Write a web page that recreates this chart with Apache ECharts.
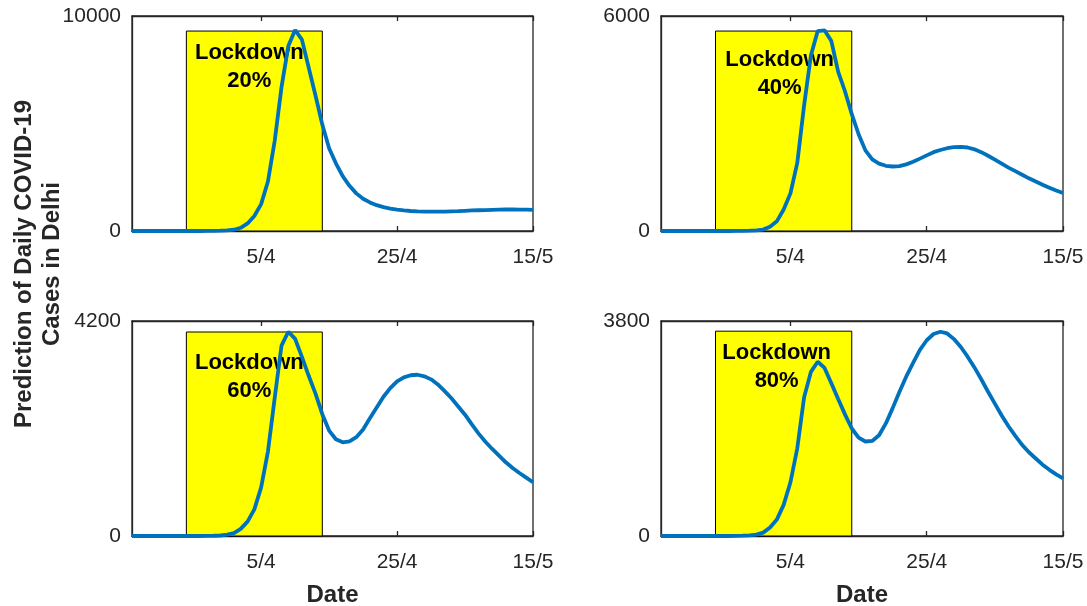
<!DOCTYPE html>
<html>
<head>
<meta charset="utf-8">
<script src="https://cdn.jsdelivr.net/npm/echarts@6/dist/echarts.min.js"></script>
<style>
html,body{margin:0;padding:0;background:#fff;}
#chart{width:1087px;height:606px;}
</style>
</head>
<body>
<div id="chart"></div>
<script>
// Dates (17 March .. 15 May)
const dates = ['17/3','18/3','19/3','20/3','21/3','22/3','23/3','24/3','25/3','26/3','27/3','28/3','29/3','30/3','31/3',
  '1/4','2/4','3/4','4/4','5/4','6/4','7/4','8/4','9/4','10/4','11/4','12/4','13/4','14/4','15/4','16/4','17/4','18/4','19/4','20/4',
  '21/4','22/4','23/4','24/4','25/4','26/4','27/4','28/4','29/4','30/4',
  '1/5','2/5','3/5','4/5','5/5','6/5','7/5','8/5','9/5','10/5','11/5','12/5','13/5','14/5','15/5'];
const tickLabels = ['5/4','25/4','15/5'];
const lockdownStart = '25/3';
const lockdownEnd = '14/4';
const lockdownLevels = ['20%','40%','60%','80%'];
const yMax = [10000, 6000, 4200, 3800];
const lockdownTop = [9300, 5580, 3985, 3620];

const cases20 = [0,0,0,0,0,0,0,0,0,0,0,3,6,15,30,60,150,350,700,1250,2300,4200,6700,8600,9350,8900,7600,6300,4950,3850,
  3150,2550,2100,1750,1500,1330,1200,1110,1040,990,955,930,915,905,900,900,905,915,925,940,955,965,975,985,995,1000,1000,995,990,980];
const cases40 = [0,0,0,0,0,0,0,0,0,0,0,3,6,10,20,40,120,270,600,1050,1900,3500,4900,5580,5600,5300,4450,3900,3260,2700,
  2250,2000,1880,1820,1800,1810,1860,1930,2020,2110,2200,2260,2310,2340,2350,2330,2280,2200,2100,1990,1880,1770,1670,1570,1470,1380,1290,1210,1130,1060];
const cases60 = [0,0,0,0,0,0,0,0,0,0,0,2,5,10,25,55,140,280,520,950,1650,2700,3720,3990,3850,3500,3130,2780,2380,2060,
  1890,1830,1850,1930,2080,2300,2510,2720,2890,3020,3100,3140,3150,3120,3060,2960,2830,2690,2530,2370,2180,2000,1840,1700,1570,1440,1330,1230,1140,1050];
const cases80 = [0,0,0,0,0,0,0,0,0,0,0,2,5,10,25,60,150,290,550,950,1550,2450,2900,3080,2970,2700,2420,2150,1900,1740,
  1670,1680,1780,1990,2260,2550,2820,3060,3290,3460,3570,3610,3580,3480,3340,3170,2980,2770,2550,2340,2130,1940,1770,1610,1480,1370,1260,1170,1090,1020];
const seriesData = [cases20, cases40, cases60, cases80];

const grids = [
  {left:132, top:16, width:401, height:215},
  {left:661, top:16, width:402, height:215},
  {left:132, top:321, width:401, height:215},
  {left:661, top:321, width:402, height:215}
];
const labelDist = [8, 15, 17, 8];
const labelOff = [[-5,0],[-4,0],[-5,0],[-7,0]];

const axisColor = '#262626';
const tickFont = {fontFamily:'Liberation Sans, Arial, sans-serif', fontSize:21, color:axisColor};
const showTick = (i, v) => tickLabels.indexOf(v) >= 0;

const option = {
  animation:false,
  backgroundColor:'#fff',
  grid: grids.map(g => Object.assign({show:true, borderColor:axisColor, borderWidth:1.3, backgroundColor:'transparent',
    containLabel:false, outerBoundsMode:'none'}, g)),
  xAxis: [],
  yAxis: [],
  series: [],
  graphic: [{
    type:'text', x:38, y:264, rotation:Math.PI/2,
    style:{text:'Prediction of Daily COVID-19\nCases in Delhi', font:'bold 24px "Liberation Sans", Arial, sans-serif',
      fill:'#262626', textAlign:'center', textVerticalAlign:'middle', lineHeight:28}
  }]
};

for (let k = 0; k < 4; k++) {
  option.xAxis.push({
    type:'category', gridIndex:k, data:dates, boundaryGap:false,
    axisLine:{show:true, lineStyle:{color:axisColor, width:1.3}},
    axisTick:{show:true, inside:true, length:5, interval:showTick, lineStyle:{color:axisColor, width:1.3}},
    axisLabel:Object.assign({show:true, interval:showTick, margin:16}, tickFont),
    splitLine:{show:false},
    name: k >= 2 ? 'Date' : '',
    nameLocation:'middle', nameGap:47,
    nameTextStyle:{fontFamily:'Liberation Sans, Arial, sans-serif', fontSize:24, fontWeight:'bold', color:axisColor}
  });
  option.xAxis.push({
    type:'category', gridIndex:k, data:dates, boundaryGap:false, position:'top',
    axisLine:{show:true, lineStyle:{color:axisColor, width:1.3}},
    axisTick:{show:true, inside:true, length:5, interval:showTick, lineStyle:{color:axisColor, width:1.3}},
    axisLabel:{show:false}, splitLine:{show:false}
  });
  option.yAxis.push({
    type:'value', gridIndex:k, min:0, max:yMax[k], interval:yMax[k],
    axisLine:{show:true, lineStyle:{color:axisColor, width:1.3}},
    axisTick:{show:false},
    axisLabel:Object.assign({show:true, margin:11, formatter:v => String(v)}, tickFont),
    splitLine:{show:false}
  });
  option.series.push({
    type:'line', xAxisIndex:2*k, yAxisIndex:k, data:[], z:1, silent:true,
    markArea:{
      silent:true,
      itemStyle:{color:'#FFFF00', borderColor:'#000', borderWidth:1},
      label:{show:true, position:'insideTop', distance:labelDist[k], offset:labelOff[k],
        formatter:'Lockdown\n' + lockdownLevels[k],
        fontFamily:'Liberation Sans, Arial, sans-serif', fontSize:22, fontWeight:'bold', color:'#000', lineHeight:28},
      data:[[{xAxis:lockdownStart, yAxis:0}, {xAxis:lockdownEnd, yAxis:lockdownTop[k]}]]
    }
  });
  option.series.push({
    type:'line', xAxisIndex:2*k, yAxisIndex:k, data:seriesData[k], z:3,
    showSymbol:false, smooth:false, clip:false,
    lineStyle:{color:'#0072BD', width:3.8}
  });
}

const chart = echarts.init(document.getElementById('chart'), null, {renderer:'canvas'});
chart.setOption(option);
</script>
</body>
</html>
